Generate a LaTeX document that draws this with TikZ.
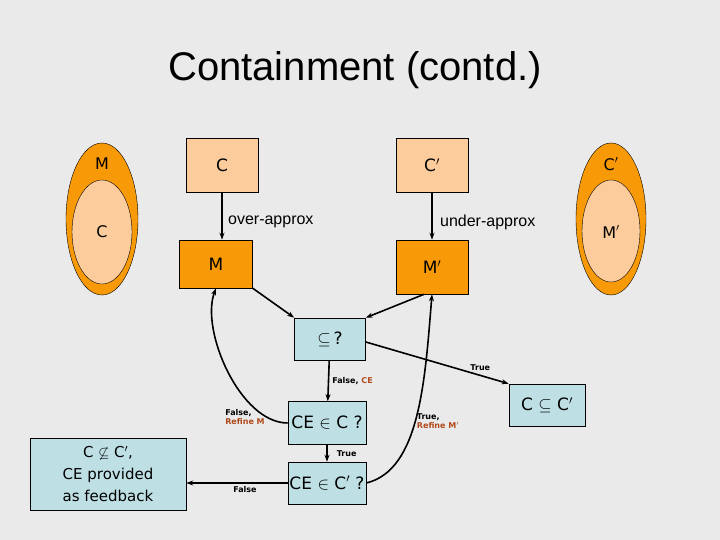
\documentclass[tikz,border=0pt]{standalone}
\usepackage{fontspec}
\setmainfont{Liberation Sans}
\newfontfamily\vfont{DejaVu Sans}
\usepackage{amssymb}
\usetikzlibrary{arrows.meta}
\definecolor{bg}{HTML}{EAEAEA}
\definecolor{lor}{HTML}{FCCC9C}
\definecolor{dor}{HTML}{F89A08}
\definecolor{lbl}{HTML}{BEE0E4}
\definecolor{brn}{HTML}{B04A1C}
\begin{document}
\begin{tikzpicture}[x=1pt,y=-1pt,
  box/.style={draw,line width=0.6pt,inner sep=0pt,font=\vfont\fontsize{17}{20}\selectfont},
  lt/.style={line width=1.6pt,-{Stealth[length=7pt,width=5pt]}},
  sm/.style={font=\vfont\bfseries\fontsize{8}{9}\selectfont,align=left,inner sep=1pt}]
\fill[bg] (0,0) rectangle (720,540);
\useasboundingbox (0,0) rectangle (720,540);
\node[font=\fontsize{40}{44}\selectfont] (title) at (355,70) {Containment (contd.)};
% left ellipse
\draw[fill=dor] (102,219) ellipse (36 and 76);
\draw[fill=lor] (102,232) ellipse (30 and 52);
\node[font=\vfont\fontsize{16}{18}\selectfont] (eM) at (102,164) {M};
\node[font=\vfont\fontsize{16}{18}\selectfont] (eC) at (102,232) {C};
% right ellipse
\draw[fill=dor] (611,219) ellipse (35 and 76);
\draw[fill=lor] (611,231) ellipse (29 and 51);
\node[font=\vfont\fontsize{16}{18}\selectfont] (eC2) at (611,164) {C$'$};
\node[font=\vfont\fontsize{16}{18}\selectfont] (eM2) at (611,232) {M$'$};
% boxes
\node[box,fill=lor,minimum width=72,minimum height=54] (C) at (222,165) {C};
\node[box,fill=lor,minimum width=72,minimum height=54] (C2) at (432,165) {C$'$};
\node[box,fill=dor,minimum width=73,minimum height=48] (M) at (216,264) {M};
\node[box,fill=dor,minimum width=72,minimum height=54] (M2) at (432,267) {M$'$};
\node[box,fill=lbl,minimum width=71,minimum height=42] (Q) at (330,339) {$\subseteq$\,?};
\node[box,fill=lbl,minimum width=78,minimum height=43] (CE1) at (327,423) {CE $\in$ C ?};
\node[box,fill=lbl,minimum width=78,minimum height=42] (CE2) at (327,483) {CE $\in$ C$'$ ?};
\node[box,fill=lbl,minimum width=156,minimum height=72,align=center,font=\vfont\fontsize{15}{22}\selectfont] (FB) at (108,474) {C $\not\subseteq$ C$'$,\\CE provided\\as feedback};
\node[box,fill=lbl,minimum width=76,minimum height=42] (OK) at (547,405) {C $\subseteq$ C$'$};
% arrows
\draw[lt] (C) -- node[right,font=\fontsize{16}{18}\selectfont,xshift=2pt,yshift=-6pt] {over-approx} (M.north -| C);
\draw[lt] (C2) -- node[right,font=\fontsize{16}{18}\selectfont,xshift=4pt,yshift=-6pt] {under-approx} (M2);
\draw[lt] (M.south east) ++(-2,-4) coordinate (m1) (M.south east) -- (Q.north west);
\draw[lt] (M2.south) ++(-8,0) coordinate (m2) (m2) -- (Q.north east);
\draw[lt] (Q.east) ++(0,3) coordinate (q1) (q1) -- node[sm,pos=0.72,above right] {True} (OK.north west);
\draw[lt] (Q) -- node[sm,right,xshift=2pt] {False, \textcolor{brn}{CE}} (CE1);
\draw[lt] (CE1) -- node[sm,right,xshift=8pt] {True} (CE2);
\draw[lt] (CE2.west) -- node[sm,below,yshift=-2pt,xshift=8pt] {False} (FB.east |- CE2.west);
\draw[lt] (CE1.west) .. controls (240,423) and (200,330) .. (M.south);
\draw[lt] (CE2.east) .. controls (420,470) and (425,380) .. (M2.south);
\node[sm] (l1) at (245,417) {False,\\\textcolor{brn}{Refine M}};
\node[sm] (l2) at (438,421) {True,\\\textcolor{brn}{Refine M$'$}};
\end{tikzpicture}
\end{document}
